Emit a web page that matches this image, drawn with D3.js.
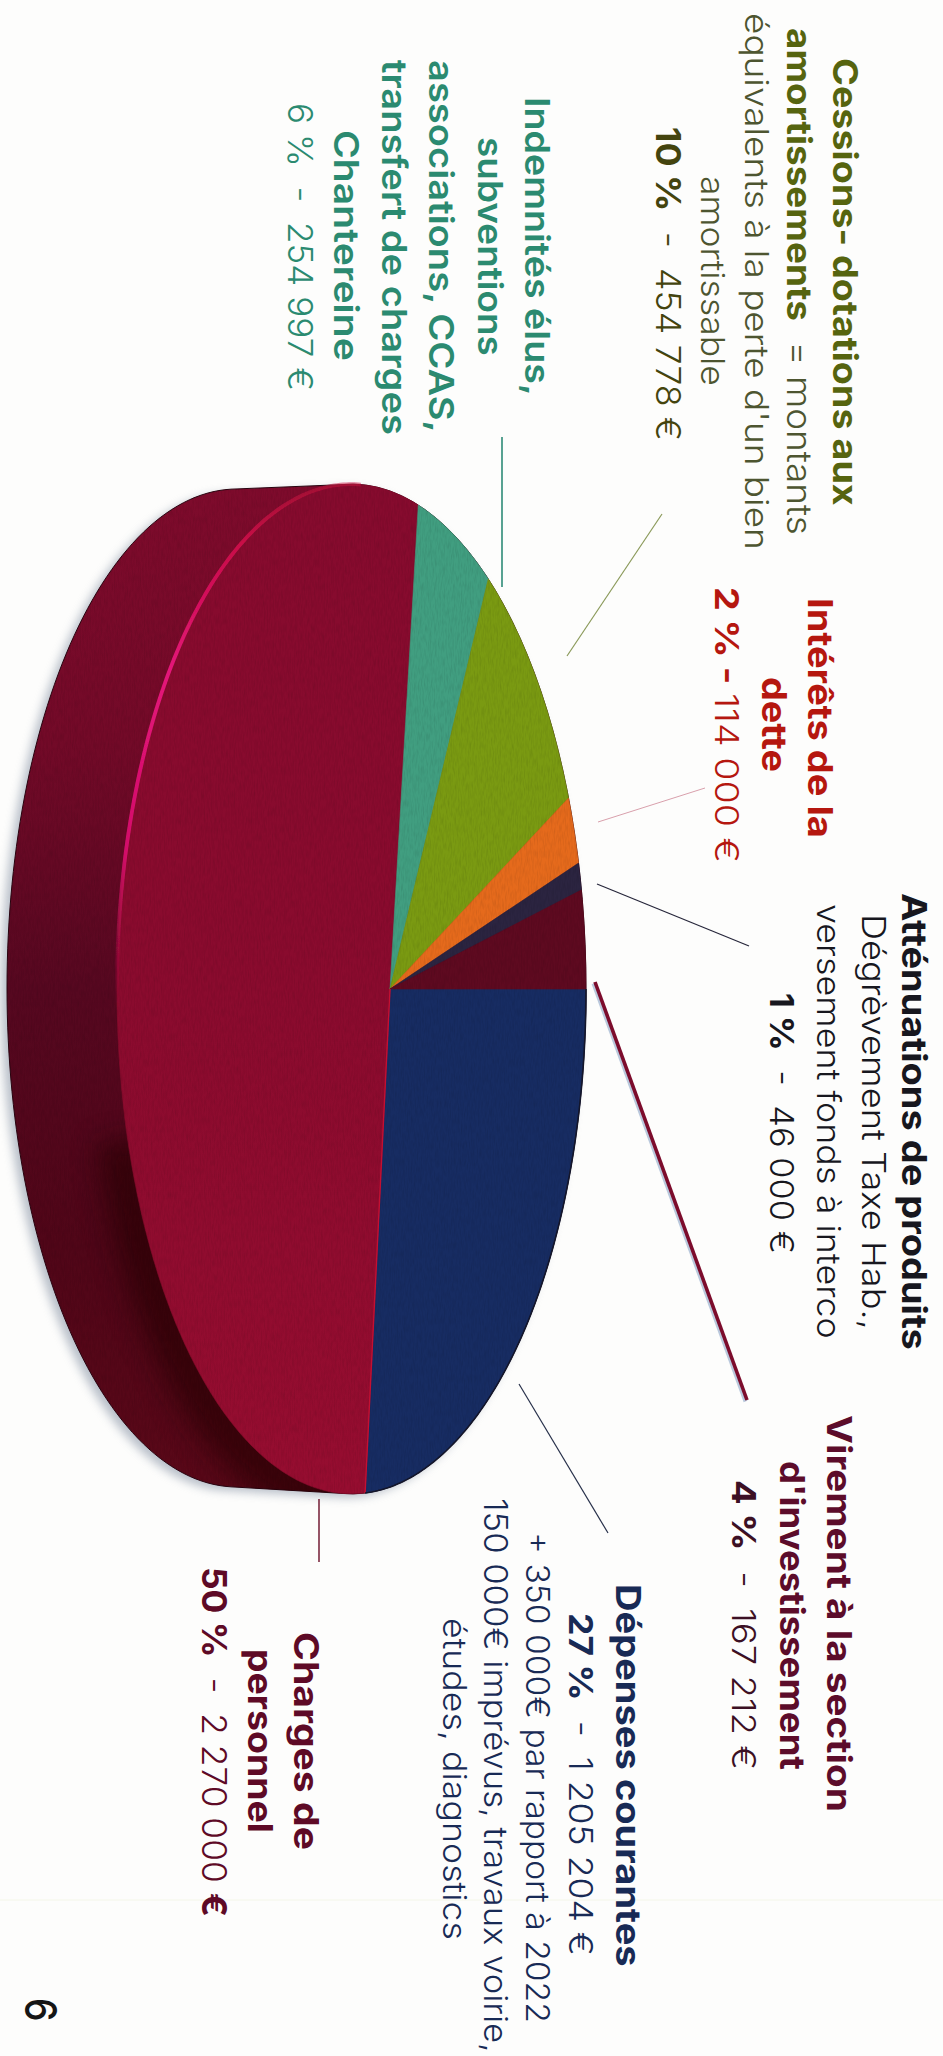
<!DOCTYPE html>
<html><head><meta charset="utf-8">
<script src="https://cdn.jsdelivr.net/npm/d3@7"></script>
<style>html,body{margin:0;padding:0;background:#fdfdfc}svg{display:block}</style>
</head><body><svg id="c" width="943" height="2056"></svg>
<script>
// ---- data ----
const categories = ["Dépenses courantes","Charges de personnel","Indemnités élus, subventions","Cessions- dotations aux amortissements","Intérêts de la dette","Atténuations de produits","Virement à la section d'investissement"];
const amounts = [1205204,2270000,254997,454778,114000,46000,167212];
const percents = [27,50,6,10,2,1,4];
const sliceColors = ["#172c62","#8c0b2e","#419e80","#7a9a12","#e56a1c","#2b2440","#5e0a20"];

// ---- layout ----
const FONT = "Inter, 'Open Sans', sans-serif";
const W = 943, H = 2056;
const svg = d3.select("#c");
const defs = svg.append("defs");
svg.append("rect").attr("width",W).attr("height",H).attr("fill","#fdfdfc");
svg.append("line").attr("x1",0).attr("x2",W).attr("y1",1900).attr("y2",1900).attr("stroke","#f4f6e8").attr("stroke-width",1);

// perspective view of the unit disc (front face)
const P = {a:292.2,b:390,c:0.1642,d:498,cy:989};
const px = (x,y)=>(P.a*x+P.b)/(1+P.c*x);
const py = (x,y)=>P.cy+P.d*y/(1+P.c*x);
const onRim = t=>[px(Math.cos(t),Math.sin(t)),py(Math.cos(t),Math.sin(t))];
const line = d3.line();
const apex = [px(0,0),py(0,0)];

const pie = d3.pie().sort(null).startAngle(Math.PI/2).endAngle(Math.PI*2.5);
const arcs = pie(amounts);
const rimPts = (a0,a1)=>d3.range(0,121).map(i=>onRim(a0+(a1-a0)*i/120));
const frontPts = rimPts(0,Math.PI*2);
const back = {cx:237,rx:230,cy:988,ry:499};
const backPts = d3.range(0,240).map(i=>{const t=i/240*2*Math.PI;return [back.cx+back.rx*Math.cos(t),back.cy+back.ry*Math.sin(t)];});
const hull = d3.polygonHull(frontPts.concat(backPts));

// filters and gradients
const blur=(id,s)=>defs.append("filter").attr("id",id).attr("x","-20%").attr("y","-20%").attr("width","140%").attr("height","140%").append("feGaussianBlur").attr("stdDeviation",s);
blur("b7",5);blur("b14",14);blur("b1",.7);
const grain=defs.append("filter").attr("id","grain").attr("x",0).attr("y",0).attr("width","100%").attr("height","100%");
grain.append("feTurbulence").attr("type","fractalNoise").attr("baseFrequency","0.7 0.12").attr("numOctaves",2).attr("seed",4);
grain.append("feColorMatrix").attr("values","0 0 0 0 0  0 0 0 0 0  0 0 0 0 0  1.4 0 0 0 -0.55");
defs.append("clipPath").attr("id","hullClip").append("path").attr("d",line(hull)+"Z");
const grad=(id,x1,y1,x2,y2,stops)=>{const g=defs.append("linearGradient").attr("id",id).attr("gradientUnits","userSpaceOnUse").attr("x1",x1).attr("y1",y1).attr("x2",x2).attr("y2",y2);
 stops.forEach(s=>g.append("stop").attr("offset",s[0]).attr("stop-color",s[1]).attr("stop-opacity",s[2]===undefined?1:s[2]));};
grad("wall",0,485,0,1495,[[0,"#7e0b2c"],[.25,"#730a28"],[.5,"#560820"],[.75,"#500618"],[1,"#5a0818"]]);
grad("rim",0,490,0,1010,[[0,"#c8103f",.5],[.1,"#d0104a",.9],[.35,"#e4147a",1],[.7,"#dc1070",.9],[1,"#b01040",0]]);
grad("crim",0,490,0,1495,[[0,"#860b2e"],[.5,"#8a0b2e"],[1,"#960d30"]]);

// drop shadow + side wall
svg.append("path").attr("d",line(hull)+"Z").attr("fill","#8c97a8").attr("opacity",.6).attr("filter","url(#b7)").attr("transform","translate(-6,4)");
svg.append("path").attr("d",line(hull)+"Z").attr("fill","url(#wall)").attr("stroke","#2a0410").attr("stroke-width",1);
const wallG=svg.append("g").attr("clip-path","url(#hullClip)");
wallG.append("path").attr("d",line(rimPts(Math.PI*.3,Math.PI*.92))).attr("fill","none").attr("stroke","#220106").attr("stroke-width",50).attr("opacity",.6).attr("filter","url(#b14)").attr("transform","translate(-6,4)");

// slices on the front face
const slices = svg.append("g");
slices.selectAll("path").data(arcs).join("path")
  .attr("d",d=>line([apex].concat(rimPts(d.startAngle-Math.PI/2,d.endAngle-Math.PI/2)))+"Z")
  .attr("fill",(d,i)=>i===1?"url(#crim)":sliceColors[i])
  .attr("stroke",(d,i)=>i===1?"#8a0b2e":sliceColors[i]).attr("stroke-width",.6);

// fine scan grain over the pie
svg.append("rect").attr("x",0).attr("y",480).attr("width",600).attr("height",1020)
  .attr("filter","url(#grain)").attr("opacity",.12).attr("clip-path","url(#hullClip)");

// edges
const ang = a=>a-Math.PI/2;
svg.append("path").attr("d",line([onRim(ang(arcs[1].startAngle)),apex])).attr("stroke","#c41032").attr("stroke-width",1.4).attr("fill","none");
svg.append("path").attr("d",line(rimPts(ang(arcs[0].startAngle),ang(arcs[0].endAngle)))).attr("stroke","#14162a").attr("stroke-width",1.6).attr("fill","none");
svg.append("path").attr("d",line(rimPts(Math.PI*.99,Math.PI*1.46))).attr("stroke","url(#rim)").attr("stroke-width",3.8).attr("fill","none").attr("filter","url(#b1)");

// leader lines
const leaders = [
 {p:[[502,437],[502,587]],c:"#2e8b76",w:1.6},
 {p:[[567,656],[662,514]],c:"#8b9a5a",w:1.2},
 {p:[[598,822],[705,788]],c:"#d9a0ac",w:1},
 {p:[[597,884],[749,946]],c:"#26263a",w:1.2},
 {p:[[595,982],[747,1400]],c:"#b9c8dc",w:4,dx:-1.5,dy:1.5},
 {p:[[595,982],[747,1400]],c:"#7c0c2c",w:3.6},
 {p:[[519,1384],[608,1533]],c:"#27304a",w:1.2},
 {p:[[319,1499],[319,1562]],c:"#7b2a40",w:1.6}
];
svg.append("g").selectAll("path").data(leaders).join("path")
  .attr("d",d=>line(d.p)).attr("stroke",d=>d.c).attr("stroke-width",d=>d.w).attr("fill","none")
  .attr("transform",d=>`translate(${d.dx||0},${d.dy||0})`);

// text lines: baseline x, first and last y; segments [text, weight]
const B=650,M=560,L=350;
const olive="#56640f",oliveT="#4d5530",olive2="#44440e",teal="#2b8a70",red="#b5170f",ink="#17171e",plum="#5c0c2a",navy="#182a55",wine="#5e0a26",wine2="#3c1024";
const textLines=[
 [833,58,506,34,olive,[["Cessions- dotations aux",B]]],
 [787,28,535,34,oliveT,[["amortissements",B,olive],["  = montants",L]]],
 [745,13,550,33,oliveT,[["équivalents à la perte d'un bien",L]]],
 [701,176,386,33,oliveT,[["amortissable",L]]],
 [656,127,441,34,olive2,[["10 %",B],["  -  454 778 €",L]]],
 [525,97,396,34,teal,[["Indemnités élus,",M]]],
 [478,137,356,34,teal,[["subventions",M]]],
 [429,60,433,34,teal,[["associations, CCAS,",M]]],
 [382,60,435,34,teal,[["transfert de charges",M]]],
 [334,130,361,34,teal,[["Chantereine",M]]],
 [288,103,391,34,teal,[["6 %",L],["  -  254 997 €",L]]],
 [808,598,838,34,red,[["Intérêts de la",B]]],
 [762,677,772,34,red,[["dette",B]]],
 [715,587,863,33,red,[["2 % - ",B],["114 000 €",L]]],
 [902,893,1350,34,ink,[["Atténuations de produits",B]]],
 [862,914,1330,33,ink,[["Dégrèvement Taxe Hab.,",L]]],
 [817,904,1339,33,ink,[["versement fonds à interco",L]]],
 [770,993,1254,33,ink,[["1 %",B],["  -  46 000 €",L]]],
 [827,1415,1812,34,plum,[["Virement à la section",B]]],
 [780,1461,1770,34,plum,[["d'investissement",B]]],
 [732,1480,1770,33,wine2,[["4 %",B],["  -  167 212 €",L]]],
 [616,1584,1967,34,navy,[["Dépenses courantes",B]]],
 [569,1613,1956,33,navy,[["27 %",B],["  -  1 205 204 €",L]]],
 [526,1532,2023,32,navy,[["+ 350 000€ par rapport à 2022",L]]],
 [484,1498,2053,32,navy,[["150 000€ imprévus, travaux voirie,",L]]],
 [443,1618,1940,32,navy,[["études, diagnostics",L]]],
 [294,1632,1850,34,wine,[["Charges de",B]]],
 [248,1649,1833,34,wine,[["personnel",B]]],
 [202,1567,1917,34,wine,[["50 %",B],["  -  2 270 000 ",L],["€",B]]]
];
const tg=svg.append("g").attr("font-family",FONT);
textLines.forEach(([x,y0,y1,fs,col,segs])=>{
  const t=tg.append("text").attr("font-size",fs).attr("fill",col).attr("xml:space","preserve").style("white-space","pre");
  segs.forEach(s=>t.append("tspan").text(s[0]).attr("font-weight",s[1]).attr("fill",s[2]||col));
  const len=t.node().getComputedTextLength();
  t.attr("transform",`translate(${x},${y0}) rotate(90) scale(${(y1-y0)/len},1)`);
});
// page number
tg.append("text").text("6").attr("font-size",44).attr("font-weight",500).attr("fill","#151515").attr("transform","translate(25,1998) rotate(90) scale(.85,1)");
</script></body></html>
